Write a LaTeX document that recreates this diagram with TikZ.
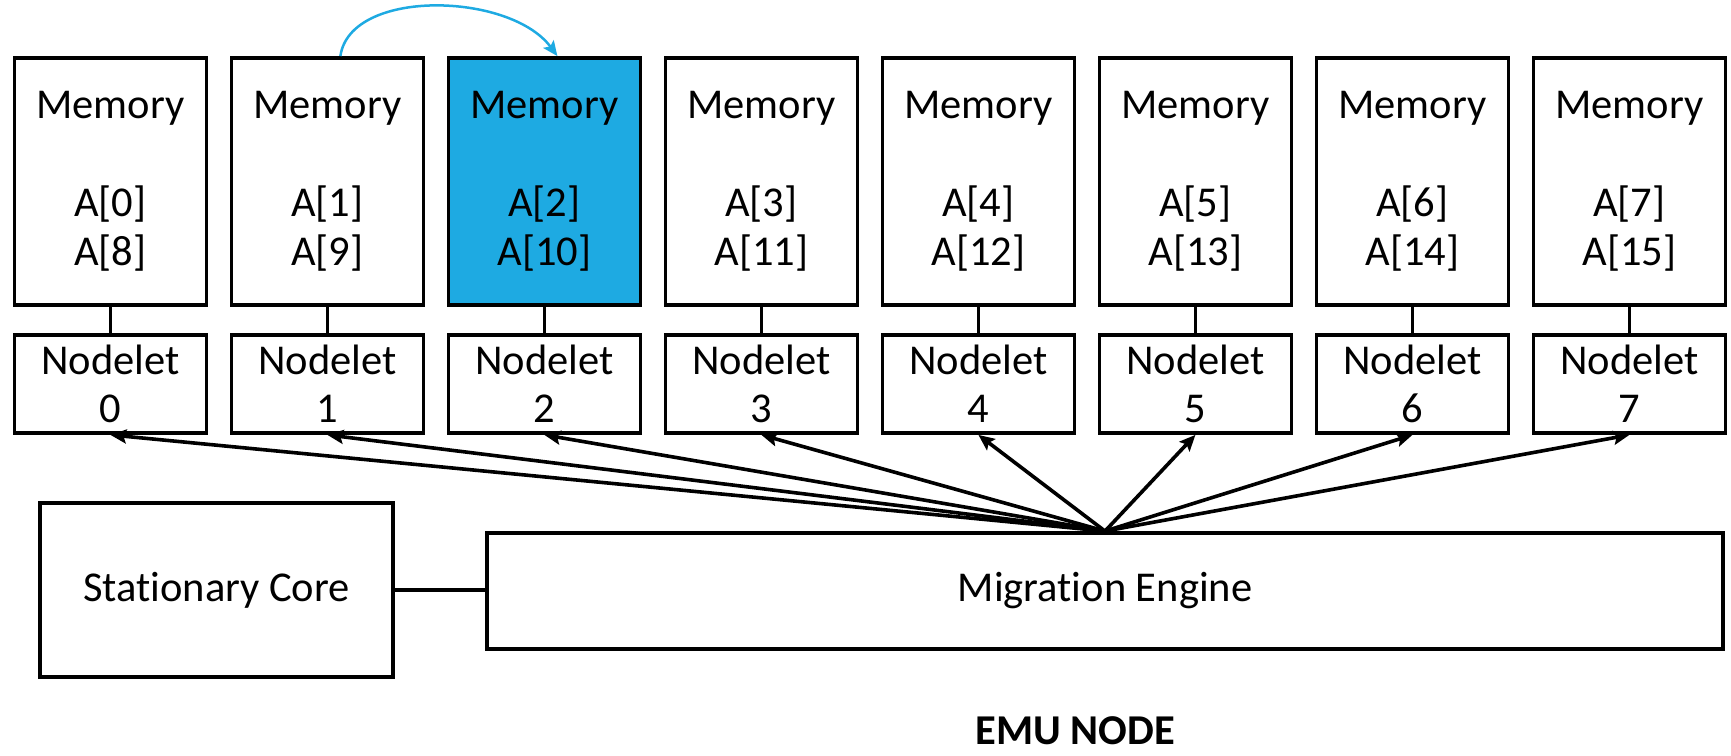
\documentclass[tikz,border=0pt]{standalone}
\usepackage{fontspec}
\setmainfont[Ligatures=NoCommon]{Carlito}
\usetikzlibrary{arrows.meta,positioning}
\definecolor{emublue}{RGB}{30,170,226}

\tikzset{
  box/.style={draw=black, line width=3.8pt, rectangle, inner sep=0pt, align=center,
              font=\fontsize{42.5}{49}\selectfont},
  membox/.style={box, minimum width=192pt, minimum height=247pt},
  nodeletbox/.style={box, minimum width=192pt, minimum height=98pt,
              font=\fontsize{42.5}{48}\selectfont},
  link/.style={line width=3.6pt},
  fan/.style={line width=3.6pt, -{Stealth[length=16pt,width=14pt,inset=3pt]}},
  hop/.style={draw=emublue, line width=2.5pt, -{Stealth[length=15pt,width=13pt,inset=3pt]}}
}

\begin{document}
\begin{tikzpicture}[x=1pt,y=-1pt]
  \useasboundingbox (0,0) rectangle (1731,755);

  % memory banks and their nodelets
  \foreach \i/\lo/\hi in {0/0/8,1/1/9,2/2/10,3/3/11,4/4/12,5/5/13,6/6/14,7/7/15}{
    \pgfmathsetmacro{\cx}{110.4+217*\i}
    \ifnum\i=2
      \node[membox, fill=emublue] (m\i) at (\cx,181.5) {Memory\\ \mbox{}\\ A[\lo]\\ A[\hi]};
    \else
      \node[membox] (m\i) at (\cx,181.5) {Memory\\ \mbox{}\\ A[\lo]\\ A[\hi]};
    \fi
    \node[nodeletbox] (n\i) at (\cx,384) {Nodelet\\ \i};
    \draw[link] (m\i.south) -- (n\i.north);
  }

  % stationary core and migration engine (kern keeps t and i as separate glyphs)
  \node[box, minimum width=353pt, minimum height=174pt] (sc) at (216.5,590) {Stat\kern0pt ionary Core};
  \node[box, minimum width=1236pt, minimum height=116pt] (me) at (1105,591) {Migrat\kern0pt ion Engine};
  \draw[link] (sc.east) -- (sc.east -| me.west);

  % migration paths from the engine to every nodelet
  \coordinate (hub) at (me.north);
  \foreach \i in {0,...,7}{
    \draw[fan] (hub) -- (n\i.south);
  }

  % thread hop from nodelet 1 memory to nodelet 2 memory
  \coordinate (hopA) at ([xshift=13pt]m1.north);
  \coordinate (hopB) at ([xshift=13pt]m2.north);
  \draw[hop] (hopA) .. controls (350,-12) and (510,-8) .. (hopB);

  \node[anchor=base, font=\fontsize{42.5}{48}\selectfont\bfseries] (title) at (1075,744) {EMU NODE};
\end{tikzpicture}
\end{document}
